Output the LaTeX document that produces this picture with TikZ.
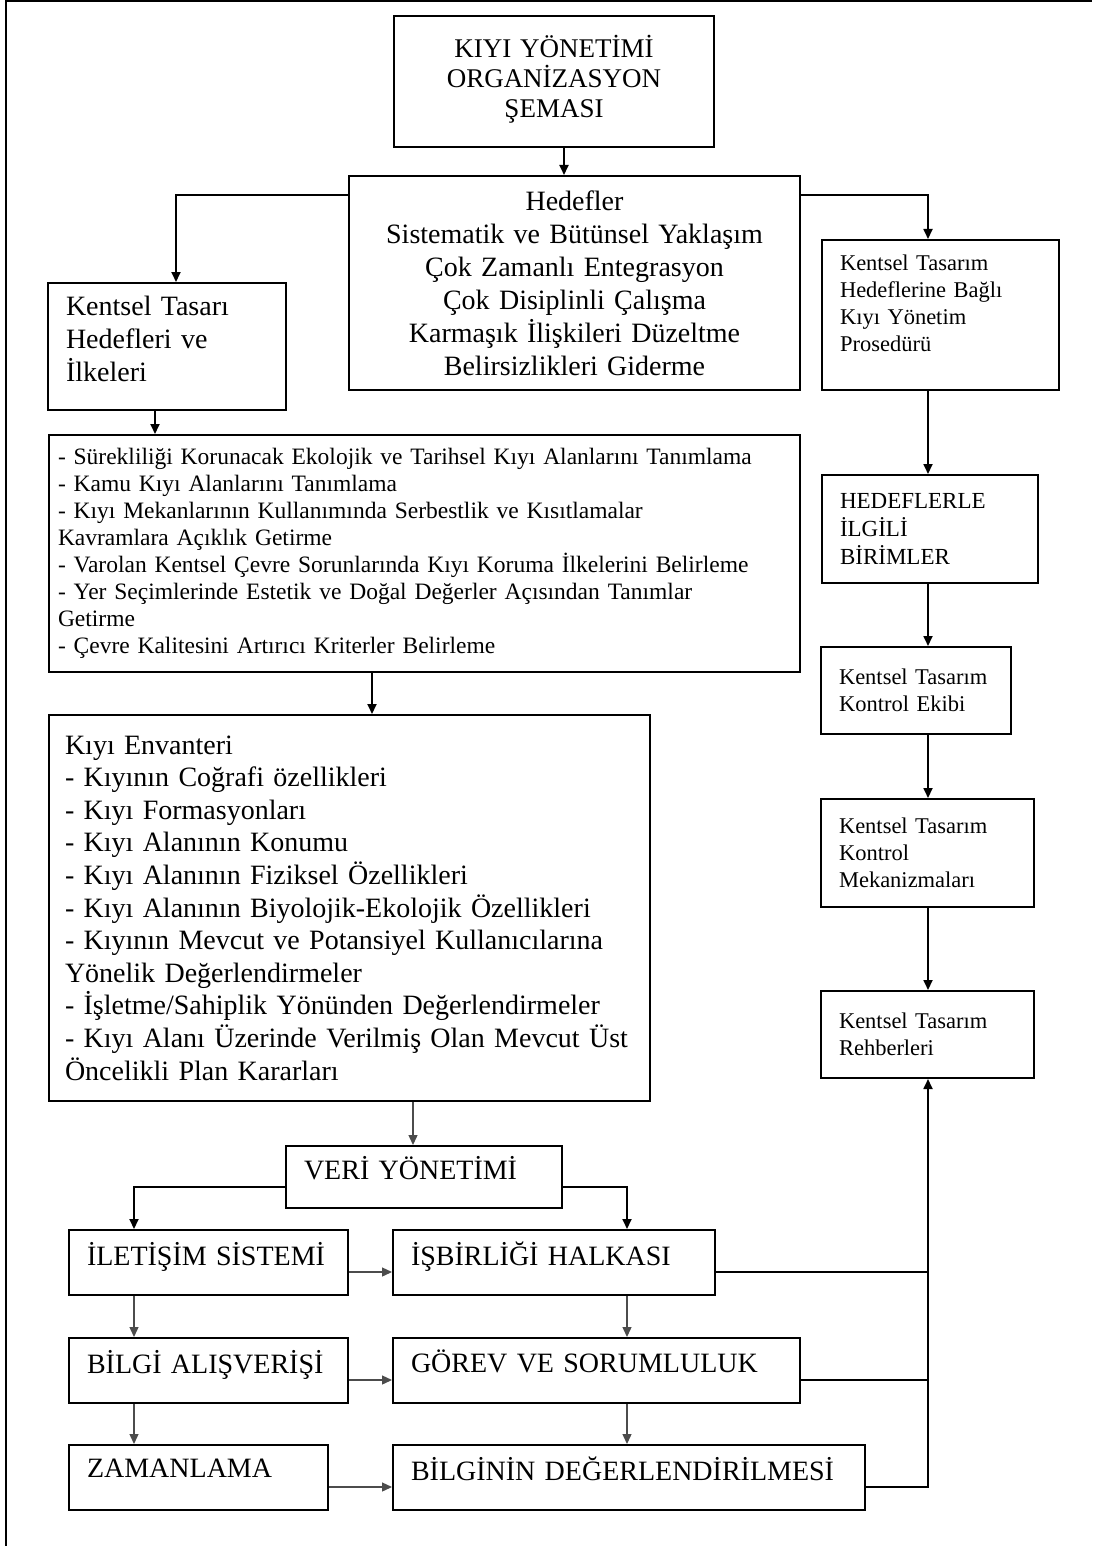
\documentclass[tikz,border=0pt]{standalone}
\usepackage{fontspec}
\setmainfont{Liberation Serif}
\usetikzlibrary{arrows.meta}

\begin{document}
\begin{tikzpicture}[x=1pt,y=-1pt,
  box/.style={draw,line width=2pt,anchor=north west,inner xsep=18pt,inner ysep=0pt,align=left},
  big/.style={font=\fontsize{28}{33}\selectfont},
  low/.style={big,minimum height=65pt,text depth=18pt},
  mid/.style={font=\fontsize{22.5}{27}\selectfont},
  arr/.style={line width=1.8pt,-{Triangle[length=10pt,width=9pt]}},
  lnk/.style={line width=1.8pt},
  thin/.style={line width=1.3pt,draw=black!70,-{Triangle[length=10pt,width=9pt]}}]
\useasboundingbox (0,0) rectangle (1092,1546);
\draw[line width=2pt] (6,1546) -- (6,1) -- (1092,1);
\node[box,align=center,font=\fontsize{27}{30}\selectfont,minimum width=320pt,minimum height=131pt,text width=284pt] (title) at (393,15) {KIYI YÖNETİMİ\\ORGANİZASYON\\ŞEMASI\rule[-10pt]{0pt}{10pt}};
\node[box,big,align=center,minimum width=451pt,minimum height=214pt,text width=415pt] (hedef) at (348,175) {Hedefler\\Sistematik ve Bütünsel Yaklaşım\\Çok Zamanlı Entegrasyon\\Çok Disiplinli Çalışma\\Karmaşık İlişkileri Düzeltme\\Belirsizlikleri Giderme};
\node[box,big,minimum height=127pt,text width=202pt] (kentsel) at (47,282) {Kentsel Tasarı\\Hedefleri ve\\İlkeleri\rule[-16pt]{0pt}{16pt}};
\node[box,mid,minimum height=150pt,text width=201pt] (prosedur) at (821,239) {Kentsel Tasarım\\Hedeflerine Bağlı\\Kıyı Yönetim\\Prosedürü\rule[-24pt]{0pt}{24pt}};
\node[box,font=\fontsize{23.5}{27}\selectfont,inner xsep=9pt,minimum height=237pt,text width=733pt] (ilke) at (48,434) {- Sürekliliği Korunacak Ekolojik ve Tarihsel Kıyı Alanlarını Tanımlama\\- Kamu Kıyı Alanlarını Tanımlama\\- Kıyı Mekanlarının Kullanımında Serbestlik ve Kısıtlamalar\\Kavramlara Açıklık Getirme\\- Varolan Kentsel Çevre Sorunlarında Kıyı Koruma İlkelerini Belirleme\\- Yer Seçimlerinde Estetik ve Doğal Değerler Açısından Tanımlar\\Getirme\\- Çevre Kalitesini Artırıcı Kriterler Belirleme};
\node[box,font=\fontsize{23}{28}\selectfont,minimum height=108pt,text width=180pt] (birim) at (821,474) {HEDEFLERLE\\İLGİLİ\\BİRİMLER};
\node[box,mid,minimum height=87pt,text width=154pt] (ekip) at (820,646) {Kentsel Tasarım\\Kontrol Ekibi};
\node[box,mid,minimum height=108pt,text width=177pt] (mekanizma) at (820,798) {Kentsel Tasarım\\Kontrol\\Mekanizmaları};
\node[box,mid,minimum height=87pt,text width=177pt] (rehber) at (820,990) {Kentsel Tasarım\\Rehberleri};
\node[box,font=\fontsize{28}{32.6}\selectfont,inner xsep=16pt,minimum height=386pt,text width=569pt] (envanter) at (48,714) {Kıyı Envanteri\\- Kıyının Coğrafi özellikleri\\- Kıyı Formasyonları\\- Kıyı Alanının Konumu\\- Kıyı Alanının Fiziksel Özellikleri\\- Kıyı Alanının Biyolojik-Ekolojik Özellikleri\\- Kıyının Mevcut ve Potansiyel Kullanıcılarına\\Yönelik Değerlendirmeler\\- İşletme/Sahiplik Yönünden Değerlendirmeler\\- Kıyı Alanı Üzerinde Verilmiş Olan Mevcut Üst\\Öncelikli Plan Kararları};
\node[box,low,minimum height=62pt,text width=240pt] (veri) at (285,1145) {VERİ YÖNETİMİ};
\node[box,low,text width=243pt] (iletisim) at (68,1229) {İLETİŞİM SİSTEMİ};
\node[box,low,text width=286pt] (isbirligi) at (392,1229) {İŞBİRLİĞİ HALKASI};
\node[box,low,text width=243pt] (bilgi) at (68,1337) {BİLGİ ALIŞVERİŞİ};
\node[box,low,text width=371pt] (gorev) at (392,1337) {GÖREV VE SORUMLULUK};
\node[box,low,text width=223pt] (zaman) at (68,1444) {ZAMANLAMA};
\node[box,low,text width=436pt] (deger) at (392,1444) {BİLGİNİN DEĞERLENDİRİLMESİ};
\coordinate (tcol) at (564,0);
\coordinate (kcol) at (176,0);
\coordinate (rcol) at (928,0);
\coordinate (icol) at (155,0);
\coordinate (ecol) at (372,0);
\coordinate (vcol) at (413,0);
\coordinate (lcol) at (134,0);
\coordinate (ccol) at (627,0);
\coordinate (hrow) at (0,195);
\coordinate (vrow) at (0,1187);
\coordinate (row1) at (0,1272);
\coordinate (row2) at (0,1380);
\coordinate (row3) at (0,1487);
\draw[arr] (tcol |- title.south) -- (tcol |- hedef.north);
\draw[arr] (hrow -| hedef.west) -| (kcol |- kentsel.north);
\draw[arr] (hrow -| hedef.east) -| (rcol |- prosedur.north);
\draw[arr] (icol |- kentsel.south) -- (icol |- ilke.north);
\draw[arr] (ecol |- ilke.south) -- (ecol |- envanter.north);
\foreach \a/\b in {prosedur/birim,birim/ekip,ekip/mekanizma,mekanizma/rehber}
  \draw[arr] (rcol |- \a.south) -- (rcol |- \b.north);
\draw[thin] (vcol |- envanter.south) -- (vcol |- veri.north);
\draw[arr] (vrow -| veri.west) -| (lcol |- iletisim.north);
\draw[arr] (vrow -| veri.east) -| (ccol |- isbirligi.north);
\foreach \a/\b in {iletisim/bilgi,bilgi/zaman}
  \draw[thin] (lcol |- \a.south) -- (lcol |- \b.north);
\foreach \a/\b in {isbirligi/gorev,gorev/deger}
  \draw[thin] (ccol |- \a.south) -- (ccol |- \b.north);
\draw[thin] (row1 -| iletisim.east) -- (row1 -| isbirligi.west);
\draw[thin] (row2 -| bilgi.east) -- (row2 -| gorev.west);
\draw[thin] (row3 -| zaman.east) -- (row3 -| deger.west);
\draw[lnk] (row1 -| isbirligi.east) -- (row1 -| rcol);
\draw[lnk] (row2 -| gorev.east) -- (row2 -| rcol);
\draw[arr] (row3 -| deger.east) -| (rcol |- rehber.south);
\end{tikzpicture}
\end{document}
